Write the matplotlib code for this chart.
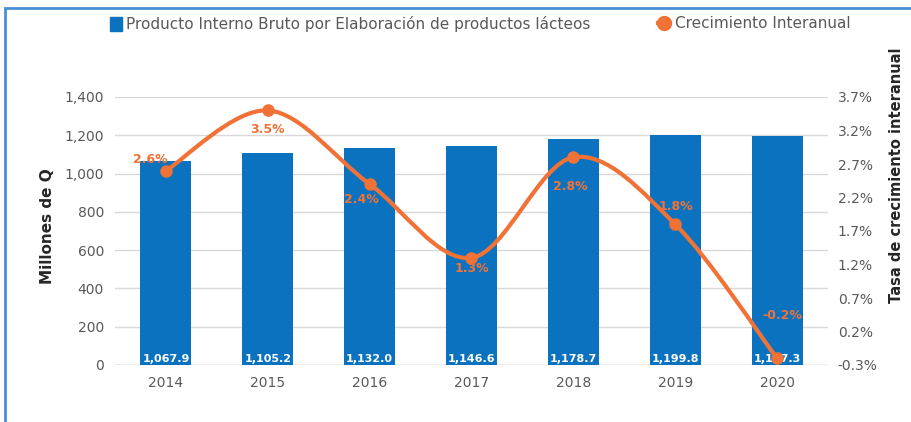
import numpy as np
import matplotlib
matplotlib.use("Agg")
import matplotlib.pyplot as plt
from matplotlib.patches import Patch, Rectangle, PathPatch
from matplotlib.lines import Line2D
from matplotlib.path import Path
from matplotlib.ticker import FuncFormatter

years = ["2014", "2015", "2016", "2017", "2018", "2019", "2020"]
pib = [1067.9, 1105.2, 1132.0, 1146.6, 1178.7, 1199.8, 1197.3]
growth = [2.6, 3.5, 2.4, 1.3, 2.8, 1.8, -0.2]
pib_labels = ["1,067.9", "1,105.2", "1,132.0", "1,146.6", "1,178.7", "1,199.8", "1,197.3"]
growth_labels = ["2.6%", "3.5%", "2.4%", "1.3%", "2.8%", "1.8%", "-0.2%"]
# label offsets in pixels (dx, dy) relative to each point
label_offsets = [(-16, 11), (0, -19), (-8, -15), (0, -11), (-3, -29), (1, 18), (5, 43)]

BLUE = "#0a72bf"
ORANGE = "#f07236"
GRID = "#d9d9d9"
TICK = "#595959"
DARK = "#262626"

plt.rcParams["font.family"] = ["DejaVu Sans"]

fig = plt.figure(figsize=(9.12, 4.22), dpi=100)
ax = fig.add_axes([115 / 912, 1 - 365 / 422, 713 / 912, 268 / 422])
ax2 = ax.twinx()

x = np.arange(len(years))
ax.bar(x, pib, width=0.5, color=BLUE, zorder=2)
ax.set_xlim(-0.5, len(years) - 0.5)
ax.set_ylim(0, 1400)
ax.set_yticks(np.arange(0, 1401, 200))
ax.yaxis.set_major_formatter(FuncFormatter(lambda v, p: f"{v:,.0f}"))
ax.set_xticks(x)
ax.set_xticklabels(years)
ax.grid(axis="y", color=GRID, linewidth=1, zorder=0)
ax.set_axisbelow(True)
for s in ["top", "right", "left", "bottom"]:
    ax.spines[s].set_visible(False)
    ax2.spines[s].set_visible(False)
ax.tick_params(axis="both", length=0, colors=TICK, labelsize=10)
ax.tick_params(axis="y", pad=8)
ax.tick_params(axis="x", pad=8)
ax.axhline(0, color="#bfbfbf", linewidth=1, zorder=1)

for xi, lab in zip(x, pib_labels):
    ax.text(xi, 7, lab, ha="center", va="bottom", color="white",
            fontsize=8, fontweight="bold", zorder=3)

# smoothed growth line (cubic Bezier through the points)
ax2.set_ylim(-0.3, 3.7)
ax2.set_yticks(np.arange(-0.3, 3.71, 0.5))
ax2.yaxis.set_major_formatter(FuncFormatter(lambda v, p: f"{v:.1f}%"))
ax2.tick_params(axis="y", length=0, colors=TICK, labelsize=10, pad=7)

pts = np.column_stack([x, growth]).astype(float)
ext = np.vstack([pts[0], pts, pts[-1]])
verts = [tuple(pts[0])]
codes = [Path.MOVETO]
for i in range(len(pts) - 1):
    p0, p1, p2, p3 = ext[i], ext[i + 1], ext[i + 2], ext[i + 3]
    c1 = p1 + (p2 - p0) / 6
    c2 = p2 - (p3 - p1) / 6
    verts += [tuple(c1), tuple(c2), tuple(p2)]
    codes += [Path.CURVE4] * 3
ax2.add_patch(PathPatch(Path(verts, codes), facecolor="none", edgecolor=ORANGE,
                        linewidth=3, zorder=4))
ax2.plot(x, growth, linestyle="none", marker="o", markersize=8, color=ORANGE, zorder=5)

for xi, g, lab, (dx, dy) in zip(x, growth, growth_labels, label_offsets):
    ax2.annotate(lab, (xi, g), xytext=(dx, dy), textcoords="offset pixels",
                 ha="center", va="center", color=ORANGE, fontsize=9,
                 fontweight="bold", zorder=6)

fig.text(48 / 912, 1 - 226 / 422, "Millones de Q", rotation=90, ha="center",
         va="center", fontsize=11, fontweight="bold", color=DARK)
fig.text(897 / 912, 1 - 175 / 422, "Tasa de crecimiento interanual", rotation=90,
         ha="center", va="center", fontsize=10.5, fontweight="bold", color=DARK)

# legend
h1 = Patch(facecolor=BLUE, edgecolor=BLUE)
h2 = Line2D([0], [0], color=ORANGE, linewidth=3, marker="o", markersize=10)
fig.legend([h1], ["Producto Interno Bruto por Elaboración de productos lácteos"],
           loc="center left", bbox_to_anchor=(104 / 912, 1 - 24 / 422), frameon=False,
           fontsize=11, labelcolor=TICK, handlelength=0.75, handleheight=1.0,
           handletextpad=0.3, borderaxespad=0)
fig.legend([h2], ["Crecimiento Interanual"],
           loc="center left", bbox_to_anchor=(652 / 912, 1 - 24 / 422), frameon=False,
           fontsize=11, labelcolor=TICK, handlelength=0.8, handletextpad=0.3,
           borderaxespad=0)

# outer frame (continues past right and bottom edges)
fig.patches.append(Rectangle((5 / 912, -0.1), 1.0, 1 - 8 / 422 + 0.1,
                             transform=fig.transFigure, fill=False,
                             edgecolor="#4a8fd6", linewidth=2))

fig.savefig("out.png", dpi=100)
